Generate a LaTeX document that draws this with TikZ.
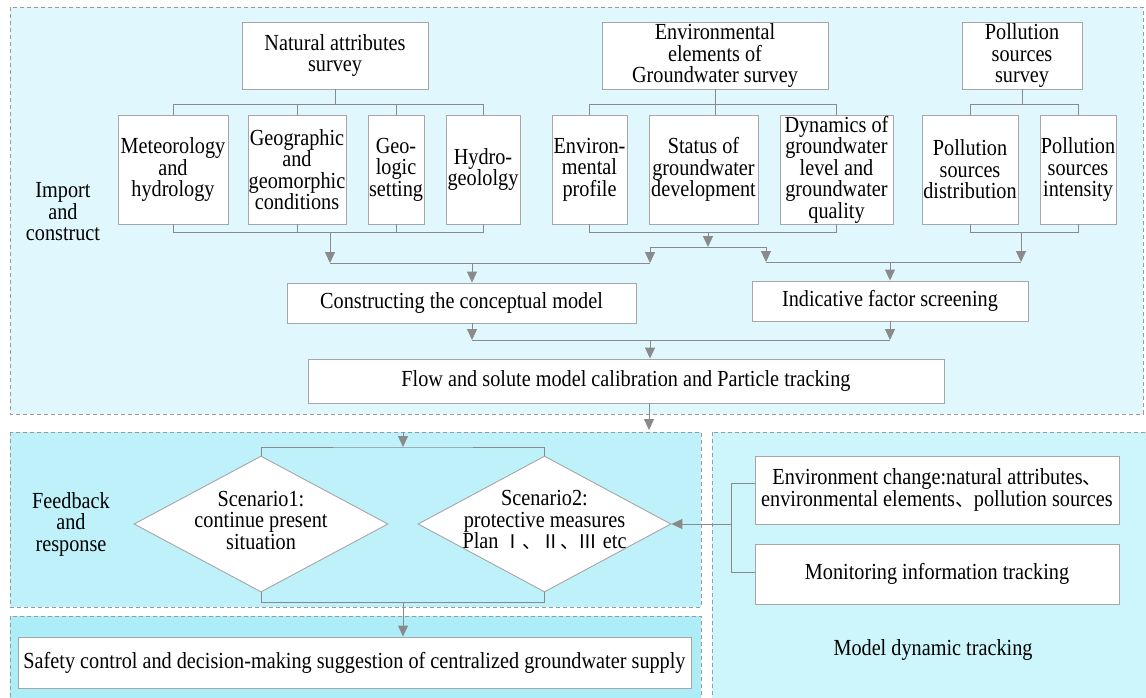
\documentclass[tikz,border=0pt]{standalone}
\usepackage{fontspec}
\setmainfont{Liberation Serif}[FakeStretch=0.88]
\newfontfamily\cjk{Noto Sans CJK SC}[Scale=0.82]
\usetikzlibrary{arrows.meta,shapes.geometric}
\definecolor{topfill}{HTML}{DFF7FD}
\definecolor{fbfill}{HTML}{BFF1FB}
\definecolor{sffill}{HTML}{ADEDF8}
\definecolor{rtfill}{HTML}{CCF6FC}
\definecolor{edgecol}{HTML}{A6A6A6}
\definecolor{lncol}{HTML}{8A8A8A}
\definecolor{dashcol}{HTML}{9A9A9A}
\begin{document}
\begin{tikzpicture}[x=1pt,y=-1pt,
  txt/.style={font=\fontsize{23}{21.5}\selectfont, align=center, inner sep=0pt},
  box/.style={txt, draw=edgecol, fill=white, line width=0.9pt},
  dia/.style={draw=edgecol, fill=white, line width=0.9pt, diamond, inner sep=0pt, aspect=1.87, minimum width=254pt, minimum height=136pt},
  region/.style={draw=dashcol, line width=0.8pt, dash pattern=on 4pt off 3pt},
  conn/.style={draw=lncol, line width=1pt},
  arr/.style={conn, -{Triangle[width=10pt,length=11pt]}}]
\useasboundingbox (0,0) rectangle (1146,697);
\fill[white] (0,0) rectangle (1146,697);
% regions
\draw[region, fill=topfill] (10,7) rectangle (1143,414);
\draw[region, fill=fbfill] (10,432) rectangle (701,607);
\draw[region, fill=sffill] (10,616) rectangle (701,702);
\draw[region, fill=rtfill] (712,432) rectangle (1152,702);
% labels
\node[txt] (lbl1) at (63,212) {Import\\and\\construct};
\node[txt] (lbl2) at (71,524) {Feedback\\and\\response};
\node[txt] (lbl3) at (933,650) {Model dynamic tracking};
% survey boxes
\node[box, minimum width=186pt, minimum height=67pt] (nat) at (335,55.5) {Natural attributes\\survey};
\node[box, minimum width=226pt, minimum height=67pt] (env) at (715,55.5) {Environmental\\elements of\\Groundwater survey};
\node[box, minimum width=120pt, minimum height=67pt] (pol) at (1022,55.5) {Pollution\\sources\\survey};
% leaves
\node[box, minimum width=110pt, minimum height=109pt] (met) at (173,169.5) {Meteorology\\and\\hydrology};
\node[box, minimum width=98pt, minimum height=109pt] (geo) at (297,169.5) {Geographic\\and\\geomorphic\\conditions};
\node[box, minimum width=56pt, minimum height=109pt] (gls) at (396,169.5) {Geo-\\logic\\setting};
\node[box, minimum width=74pt, minimum height=109pt] (hyd) at (483,169.5) {Hydro-\\geololgy};
\node[box, minimum width=75pt, minimum height=109pt] (envp) at (589.5,169.5) {Environ-\\mental\\profile};
\node[box, minimum width=109pt, minimum height=109pt] (sta) at (703.5,169.5) {Status of\\groundwater\\development};
\node[box, minimum width=113pt, minimum height=109pt] (dyn) at (836.5,169.5) {Dynamics of\\groundwater\\level and\\groundwater\\quality};
\node[box, minimum width=96pt, minimum height=109pt] (pdi) at (970,169.5) {Pollution\\sources\\distribution};
\node[box, minimum width=76pt, minimum height=109pt] (pin) at (1078,169.5) {Pollution\\sources\\intensity};
% process boxes
\node[box, minimum width=349pt, minimum height=40pt] (conc) at (461.5,303) {Constructing the conceptual model};
\node[box, minimum width=276pt, minimum height=40pt] (ind) at (890,301) {Indicative factor screening};
\node[box, minimum width=636pt, minimum height=44pt] (flow) at (626,381) {Flow and solute model calibration and Particle tracking};
% diamonds
\node[dia] (d1) at (261,524) {};
\node[txt] (d1t) at (261,520) {Scenario1:\\continue present\\situation};
\node[dia, minimum width=253pt] (d2) at (544.5,524) {};
\node[txt] (d2t) at (544.5,520) {Scenario2:\\protective measures\\Plan {\cjk Ⅰ、Ⅱ、Ⅲ} etc};
\node[box, minimum width=673pt, minimum height=51pt] (safe) at (354.5,662.5) {Safety control and decision-making suggestion of centralized groundwater supply};
\node[box, minimum width=364pt, minimum height=68pt] (envc) at (937,490) {Environment change:natural attributes{\cjk 、}\\environmental elements{\cjk 、}pollution sources};
\node[box, minimum width=364pt, minimum height=60pt] (mon) at (937,574) {Monitoring information tracking};
% helper coordinates
\coordinate (t1) at (0,104);
\coordinate (b1) at (0,232);
\coordinate (nb) at (330,232);
\coordinate (nj) at (330,263);
\coordinate (eb) at (708,232);
\coordinate (ej) at (708,247);
\coordinate (pb) at (1021,232);
\coordinate (pj) at (1021,262);
\coordinate (s1) at (650,247);
\coordinate (s1e) at (650,263);
\coordinate (s2) at (766,247);
\coordinate (s2e) at (766,262);
\coordinate (cin) at (472,263);
\coordinate (iin) at (890,262);
\coordinate (cout) at (472,340);
\coordinate (iout) at (890,340);
\coordinate (fin) at (650,340);
\coordinate (fout) at (649,430);
\coordinate (fbin) at (403,432);
\coordinate (fbj) at (403,447);
\coordinate (dj) at (403,602);
\coordinate (jr) at (731,524);
% natural group brackets
\draw[conn] (met.north) |- (t1 -| hyd.north) -- (hyd.north);
\draw[conn] (nat.south) -- (nat.south |- t1);
\draw[conn] (geo.north) -- (geo.north |- t1);
\draw[conn] (gls.north) -- (gls.north |- t1);
\draw[conn] (met.south) |- (b1 -| hyd.south) -- (hyd.south);
\draw[conn] (geo.south) -- (geo.south |- b1);
\draw[conn] (gls.south) -- (gls.south |- b1);
% environmental group brackets
\draw[conn] (envp.north) |- (t1 -| dyn.north) -- (dyn.north);
\draw[conn] (env.south) -- (env.south |- sta.north);
\draw[conn] (envp.south) |- (b1 -| dyn.south) -- (dyn.south);
% pollution group brackets
\draw[conn] (pdi.north) |- (t1 -| pin.north) -- (pin.north);
\draw[conn] (pol.south) -- (pol.south |- t1);
\draw[conn] (pdi.south) |- (b1 -| pin.south) -- (pin.south);
% merging flows
\draw[arr] (nb) -- (nj);
\draw[arr] (eb) -- (ej);
\draw[arr] (pb) -- (pj);
\draw[conn] (s1) -- (s2);
\draw[arr] (s1) -- (s1e);
\draw[arr] (s2) -- (s2e);
\draw[conn] (nj) -- (s1e);
\draw[conn] (s2e) -- (pj);
\draw[arr] (cin) -- (cin |- conc.north);
\draw[arr] (iin) -- (ind.north);
\draw[arr] (cin |- conc.south) -- (cout);
\draw[arr] (ind.south) -- (iout);
\draw[conn] (cout) -- (iout);
\draw[arr] (fin) -- (fin |- flow.north);
\draw[arr] (fout |- flow.south) -- (fout);
% feedback
\draw[arr] (fbin) -- (fbj);
\draw[conn] (d1.north) |- (fbj) -| (d2.north);
\draw[conn] (d1.south) |- (dj) -| (d2.south);
\draw[arr] (dj) -- (dj |- safe.north);
% right side
\draw[conn] ([yshift=7pt]envc.west) -| (jr);
\draw[conn] ([yshift=2pt]mon.west) -| (jr);
\draw[arr] (jr) -- (d2.east);
\end{tikzpicture}
\end{document}
